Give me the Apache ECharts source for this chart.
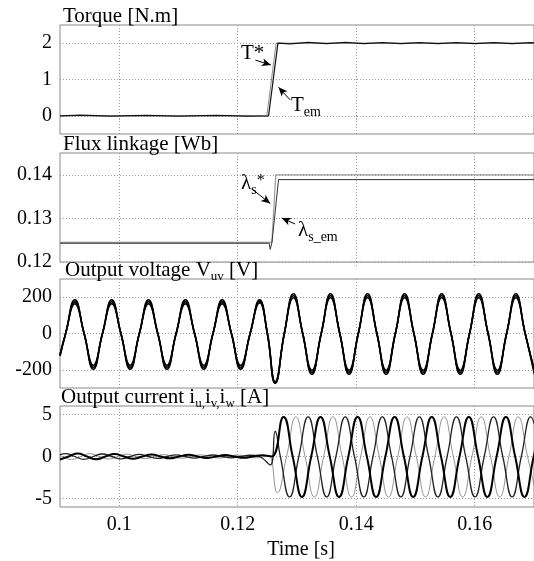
<!DOCTYPE html>
<html>
<head>
<meta charset="utf-8">
<script src="https://cdn.jsdelivr.net/npm/echarts@6/dist/echarts.min.js"></script>
<style>
  html, body { margin: 0; padding: 0; background: #fff; }
  #chart { width: 534px; height: 561px; }
</style>
</head>
<body>
<div id="chart"></div>
<script>
// tick labels
var timeTicks = [0.1, 0.12, 0.14, 0.16];
var torqueTicks = [0, 1, 2];
var fluxTicks = [0.12, 0.13, 0.14];
var voltTicks = [-200, 0, 200];
var currTicks = [-5, 0, 5];

// torque [s, N.m]
var torqueRef = [[0.09, 0], [0.12491, 0], [0.12648, 2], [0.17, 2]];
var torqueEm = [[0.09, 0], [0.0935, 0.02], [0.0985, -0.01], [0.1045, 0.015], [0.110, -0.01], [0.1165, 0.01],
  [0.1215, -0.01], [0.1252, 0], [0.12678, 2], [0.1288, 1.98], [0.1319, 2.02], [0.1350, 1.985], [0.1382, 2.02],
  [0.1413, 1.985], [0.1444, 2.015], [0.1475, 1.985], [0.1507, 2.015], [0.1538, 1.985], [0.1569, 2.015], [0.1600, 1.985],
  [0.1632, 2.015], [0.1663, 1.985], [0.1694, 2.015], [0.17, 2.01]];

// flux linkage [s, Wb]
var fluxRef = [[0.09, 0.1245], [0.12575, 0.1245], [0.12642, 0.1400], [0.17, 0.1400]];
var fluxEm = [[0.09, 0.1243], [0.12530, 0.1243], [0.12548, 0.1229], [0.12578, 0.1245], [0.12688, 0.1389], [0.17, 0.1389]];

// output voltage Vuv: sample times [s] and the ripple band (upper, middle, lower) [V]
var voltTime = [0.09, 0.09095, 0.09251, 0.09407, 0.09562, 0.09717, 0.09873, 0.10028, 0.10184, 0.10339,
  0.10494, 0.10650, 0.10805, 0.10960, 0.11116, 0.11271, 0.11427, 0.11582, 0.11737, 0.11893, 0.12048, 0.12209,
  0.12369, 0.12500, 0.12632, 0.12786, 0.12939, 0.13096, 0.13252, 0.13409, 0.13565, 0.13722, 0.13878, 0.14035,
  0.14191, 0.14348, 0.14504, 0.14660, 0.14816, 0.14973, 0.15129, 0.15286, 0.15442, 0.15599, 0.15755, 0.15912,
  0.16068, 0.16225, 0.16381, 0.16538, 0.16694, 0.16851, 0.17007];
var voltHi = [-116, 0, 186, 0, -175, 0, 186, 0, -175, 0, 186, 0, -175, 0, 186, 0, -175, 0, 186, 0, -175, 0,
  186, 0, -265, 0, 219, 0, -202, 0, 219, 0, -202, 0, 219, 0, -202, 0, 219, 0, -202, 0, 219, 0, -202, 0,
  219, 0, -202, 0, 219, 0, -202];
var voltMid = [-120, 0, 175, 0, -186, 0, 175, 0, -186, 0, 175, 0, -186, 0, 175, 0, -186, 0, 175, 0, -186, 0,
  178, 0, -270, 0, 208, 0, -213, 0, 208, 0, -213, 0, 208, 0, -213, 0, 208, 0, -213, 0, 208, 0, -213, 0,
  208, 0, -213, 0, 208, 0, -213];
var voltLo = [-124, 0, 164, 0, -197, 0, 164, 0, -197, 0, 164, 0, -197, 0, 164, 0, -197, 0, 164, 0, -197, 0,
  170, 0, -275, 0, 197, 0, -224, 0, 197, 0, -224, 0, 197, 0, -224, 0, 197, 0, -224, 0, 197, 0, -224, 0,
  197, 0, -224, 0, 197, 0, -224];

// output currents iu, iv, iw [s, A]
var currentU = [[0.09, -0.35], [0.09145, 0], [0.0930, 0.35], [0.09456, 0], [0.09611, -0.33], [0.09767, 0],
  [0.09922, 0.3], [0.10078, 0], [0.10233, -0.28], [0.10389, 0], [0.10544, 0.25], [0.10700, 0], [0.10855, -0.22],
  [0.11011, 0], [0.11166, 0.2], [0.11322, 0], [0.11477, -0.19], [0.11633, 0], [0.11788, 0.18], [0.11944, 0],
  [0.12099, -0.16], [0.12255, 0], [0.12410, 0.15], [0.12570, 0], [0.12771, 4.7], [0.12927, 0], [0.13084, -4.8],
  [0.13240, 0], [0.13397, 4.7], [0.13553, 0], [0.13710, -4.8], [0.13866, 0], [0.14023, 4.7], [0.14179, 0],
  [0.14336, -4.8], [0.14492, 0], [0.14648, 4.7], [0.14804, 0], [0.14961, -4.8], [0.15117, 0], [0.15274, 4.7],
  [0.15430, 0], [0.15587, -4.8], [0.15743, 0], [0.15900, 4.7], [0.16056, 0], [0.16213, -4.8], [0.16369, 0],
  [0.16526, 4.7], [0.16682, 0], [0.16839, -4.8], [0.16995, 0], [0.17152, 4.7]];
var currentV = [[0.09, 0.2], [0.09093, 0.35], [0.09249, 0], [0.09404, -0.33], [0.09560, 0], [0.09715, 0.3],
  [0.09871, 0], [0.10026, -0.28], [0.10182, 0], [0.10337, 0.25], [0.10493, 0], [0.10648, -0.22], [0.10804, 0],
  [0.10959, 0.2], [0.11115, 0], [0.11270, -0.19], [0.11426, 0], [0.11581, 0.18], [0.11737, 0], [0.11892, -0.16],
  [0.12048, 0], [0.12203, 0.15], [0.12359, 0], [0.12549, -1.0], [0.12632, 3.0], [0.12719, 0], [0.12875, -4.8],
  [0.13031, 0], [0.13188, 4.7], [0.13344, 0], [0.13501, -4.8], [0.13657, 0], [0.13814, 4.7], [0.13970, 0],
  [0.14127, -4.8], [0.14283, 0], [0.14440, 4.7], [0.14596, 0], [0.14752, -4.8], [0.14908, 0], [0.15065, 4.7],
  [0.15221, 0], [0.15378, -4.8], [0.15534, 0], [0.15691, 4.7], [0.15847, 0], [0.16004, -4.8], [0.16160, 0],
  [0.16317, 4.7], [0.16473, 0], [0.16630, -4.8], [0.16786, 0], [0.16943, 4.7], [0.17099, 0]];
var currentW = [[0.09, 0.1], [0.09041, 0], [0.09196, -0.35], [0.09352, 0], [0.09507, 0.33], [0.09663, 0],
  [0.09818, -0.3], [0.09974, 0], [0.10129, 0.28], [0.10285, 0], [0.10440, -0.25], [0.10596, 0], [0.10751, 0.22],
  [0.10907, 0], [0.11062, -0.2], [0.11218, 0], [0.11373, 0.19], [0.11529, 0], [0.11684, -0.18], [0.11840, 0],
  [0.11995, 0.16], [0.12151, 0], [0.12306, -0.15], [0.12462, 0], [0.12530, 0.05], [0.12667, -4.3], [0.12824, 0],
  [0.12980, 4.7], [0.13136, 0], [0.13293, -4.8], [0.13450, 0], [0.13606, 4.7], [0.13762, 0], [0.13919, -4.8],
  [0.14075, 0], [0.14231, 4.7], [0.14388, 0], [0.14544, -4.8], [0.14701, 0], [0.14857, 4.7], [0.15013, 0],
  [0.15170, -4.8], [0.15327, 0], [0.15483, 4.7], [0.15639, 0], [0.15796, -4.8], [0.15953, 0], [0.16109, 4.7],
  [0.16265, 0], [0.16422, -4.8], [0.16578, 0], [0.16734, 4.7], [0.16891, 0], [0.17047, -4.8]];

var FONT = 'Liberation Serif';
var tops = [25, 153, 279, 406];
var gridLine = { color: '#9a9a9a', type: [1, 2], width: 1 };

function zip(t, v) {
  return t.map(function (x, k) { return [x, v[k]]; });
}
function xAx(i) {
  var last = i === 3;
  return {
    type: 'value', gridIndex: i, min: 0.09, max: 0.17,
    axisLine: { show: false },
    axisTick: { show: true, length: 4, customValues: timeTicks, lineStyle: gridLine },
    axisLabel: { show: last, customValues: timeTicks, margin: 8, color: '#000', fontFamily: FONT, fontSize: 20 },
    splitLine: { show: true, lineStyle: gridLine },
    name: last ? 'Time [s]' : '',
    nameLocation: 'middle', nameGap: 33,
    nameTextStyle: { color: '#000', fontFamily: FONT, fontSize: 20, padding: [0, 0, 0, 8] }
  };
}
function yAx(i, min, max, ticks) {
  return {
    type: 'value', gridIndex: i, min: min, max: max,
    axisLine: { show: false },
    axisTick: { show: false, customValues: ticks },
    axisLabel: { customValues: ticks, margin: 8, color: '#000', fontFamily: FONT, fontSize: 20 },
    splitLine: { show: true, lineStyle: gridLine }
  };
}
function line(i, data, color, width, smooth, mark) {
  var s = {
    type: 'line', xAxisIndex: i, yAxisIndex: i, data: data,
    showSymbol: false, smooth: smooth, animation: false,
    lineStyle: { color: color, width: width }
  };
  if (mark) {
    s.markLine = {
      silent: true, animation: false,
      symbol: ['none', 'arrow'], symbolSize: [6, 9],
      label: { show: false },
      lineStyle: { color: '#000', width: 1, type: 'solid' },
      data: mark
    };
  }
  return s;
}
function title(i, text, x) {
  return {
    type: 'text', x: x, y: tops[i] + 1.5, z: 100,
    style: {
      text: text, fill: '#000', fontFamily: FONT, fontSize: 21, lineHeight: 21,
      align: 'left', verticalAlign: 'bottom',
      rich: {
        sub: { fontFamily: FONT, fontSize: 13, height: 8, verticalAlign: 'bottom', fill: '#000' }
      }
    }
  };
}
function note(x, y, text) {
  return {
    type: 'text', x: x, y: y, z: 100,
    style: {
      text: text, fill: '#000', fontFamily: FONT, fontSize: 21, lineHeight: 21,
      align: 'left', verticalAlign: 'bottom',
      rich: {
        sub: { fontFamily: FONT, fontSize: 14, height: 8, verticalAlign: 'bottom', fill: '#000' },
        sup: { fontFamily: FONT, fontSize: 16, verticalAlign: 'top', fill: '#000' }
      }
    }
  };
}

var chart = echarts.init(document.getElementById('chart'));
chart.setOption({
  backgroundColor: '#fff',
  animation: false,
  grid: tops.map(function (t) {
    return { left: 60, top: t, width: 477, height: 109, show: true, borderColor: '#888', borderWidth: 1, backgroundColor: 'transparent' };
  }),
  xAxis: [xAx(0), xAx(1), xAx(2), xAx(3)],
  yAxis: [
    yAx(0, -0.5, 2.5, torqueTicks),
    yAx(1, 0.12, 0.145, fluxTicks),
    yAx(2, -300, 300, voltTicks),
    yAx(3, -6, 6, currTicks)
  ],
  series: [
    line(0, torqueRef, '#8a8a8a', 1, false, [
      [{ coord: [0.12297, 1.534] }, { coord: [0.1256, 1.40] }],
      [{ coord: [0.12884, 0.438] }, { coord: [0.12688, 0.786] }]
    ]),
    line(0, torqueEm, '#111', 1.2, false),
    line(1, fluxRef, '#9a9a9a', 1.2, false, [
      [{ coord: [0.12235, 0.1368] }, { coord: [0.12548, 0.13343] }],
      [{ coord: [0.12968, 0.12872] }, { coord: [0.12743, 0.13009] }]
    ]),
    line(1, fluxEm, '#333', 1, false),
    line(2, zip(voltTime, voltHi), '#000', 1.6, true),
    line(2, zip(voltTime, voltMid), '#000', 1.6, true),
    line(2, zip(voltTime, voltLo), '#000', 1.6, true),
    line(3, currentW, '#777', 0.8, true),
    line(3, currentV, '#222', 1.3, true),
    line(3, currentU, '#000', 2, true)
  ],
  graphic: [
    title(0, 'Torque [N.m]', 63),
    title(1, 'Flux linkage [Wb]', 63),
    title(2, 'Output voltage V{sub|uv} [V]', 65),
    title(3, 'Output current i{sub|u,}i{sub|v,}i{sub|w} [A]', 61),
    note(241, 64, 'T*'),
    note(291, 116, 'T{sub|em}'),
    note(241, 194, 'λ{sub|s}{sup|*}'),
    note(298, 241, 'λ{sub|s_em}')
  ]
});
</script>
</body>
</html>
